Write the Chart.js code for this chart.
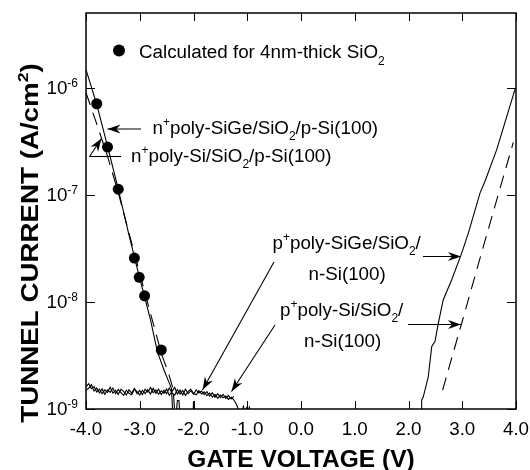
<!DOCTYPE html>
<html>
<head>
<meta charset="utf-8">
<script src="https://cdn.jsdelivr.net/npm/chart.js@4.4.1/dist/chart.umd.min.js"></script>
<style>
  html, body { margin: 0; padding: 0; background: #fff; }
  canvas { display: block; }
</style>
</head>
<body>
<canvas id="tunnel" width="530" height="470"></canvas>
<script>
// axis ticks
const xTicks = [-4, -3, -2, -1, 0, 1, 2, 3, 4];
const yTicks = [1e-9, 1e-8, 1e-7, 1e-6];

// n+ poly-SiGe gate, negative bias (solid)
const nSiGeV = [-4.0, -3.8, -3.6, -3.4, -3.2, -3.0, -2.9, -2.8, -2.67, -2.54, -2.47, -2.41, -2.38, -2.33, -2.30, -2.27, -2.25, -2.01, -2.00, -1.99];
const nSiGeJ = [1.48e-6, 7.0e-7, 2.85e-7, 1.13e-7, 4.2e-8, 1.65e-8, 1.07e-8, 6.8e-9, 3.4e-9, 2.25e-9, 1.85e-9, 1.56e-9, 8e-10, 8e-10, 1.2e-9, 1.2e-9, 8e-10, 8e-10, 1.18e-9, 8e-10];

// n+ poly-Si gate, negative bias (dashed)
const nSiV = [-4.0, -3.8, -3.6, -3.4, -3.2, -3.0, -2.8, -2.59, -2.47, -2.38, -2.34];
const nSiJ = [9e-7, 4.6e-7, 2.3e-7, 1.05e-7, 4.4e-8, 1.85e-8, 7.8e-9, 3.2e-9, 2.2e-9, 1.55e-9, 8e-10];

// calculated points, 4nm SiO2
const calcV = [-3.80, -3.60, -3.40, -3.10, -3.01, -2.91, -2.60];
const calcJ = [7.1e-7, 2.8e-7, 1.13e-7, 2.57e-8, 1.7e-8, 1.14e-8, 3.56e-9];

// p+ gates, leakage floor at negative bias (in 1e-9 A/cm2)
const floorV = [-4.00, -3.95, -3.90, -3.85, -3.80, -3.75, -3.70, -3.65, -3.60, -3.55, -3.50, -3.45, -3.40, -3.35, -3.30, -3.25, -3.20, -3.15, -3.10, -3.05,
                -3.00, -2.95, -2.90, -2.85, -2.80, -2.75, -2.70, -2.65, -2.60, -2.55, -2.50, -2.45, -2.40, -2.35, -2.30, -2.25, -2.20, -2.15, -2.10, -2.05,
                -2.00, -1.95, -1.90, -1.85, -1.80, -1.75, -1.70, -1.65, -1.60, -1.55, -1.50, -1.45, -1.40, -1.35, -1.30, -1.25];
const floorA = [1.62, 1.72, 1.55, 1.62, 1.44, 1.53, 1.39, 1.51, 1.43, 1.60, 1.41, 1.49, 1.37, 1.53, 1.46, 1.35, 1.51, 1.41, 1.56, 1.39,
                1.49, 1.36, 1.53, 1.44, 1.59, 1.42, 1.51, 1.37, 1.48, 1.40, 1.54, 1.34, 1.46, 1.59, 1.38, 1.50, 1.35, 1.53, 1.39, 1.48,
                1.37, 1.51, 1.41, 1.47, 1.36, 1.45, 1.32, 1.42, 1.29, 1.39, 1.28, 1.37, 1.26, 1.34, 1.24, 1.31];
const floorB = [1.50, 1.56, 1.69, 1.47, 1.57, 1.41, 1.54, 1.37, 1.51, 1.43, 1.57, 1.39, 1.52, 1.42, 1.34, 1.50, 1.40, 1.36, 1.53, 1.45,
                1.35, 1.49, 1.39, 1.51, 1.38, 1.56, 1.40, 1.53, 1.36, 1.50, 1.39, 1.57, 1.41, 1.35, 1.52, 1.38, 1.49, 1.34, 1.46, 1.53,
                1.40, 1.36, 1.48, 1.38, 1.45, 1.33, 1.41, 1.29, 1.37, 1.26, 1.35, 1.27, 1.32, 1.23, 1.29, 1.22];
const tailV = [-1.25, -1.20, -1.15, -1.10, -1.07, -1.04, -1.01, -0.98, -0.96, -0.94];
const tailB = [1.22, 1.10, 0.95, 0.80, 1.08, 0.70, 1.05, 0.75, 1.06, 0.60];

// p+ poly-SiGe gate, positive bias (solid)
const pSiGeV = [2.233, 2.245, 2.275, 2.368, 2.432, 2.493, 2.554, 2.647, 2.804, 2.99, 3.113, 3.33, 3.423, 3.641, 3.99];
const pSiGeJ = [8e-10, 1.21e-9, 1.30e-9, 2.0e-9, 3.83e-9, 4.27e-9, 6.3e-9, 1.05e-8, 1.61e-8, 2.86e-8, 4.4e-8, 1.04e-7, 1.34e-7, 2.65e-7, 1.0e-6];

// p+ poly-Si gate, positive bias (dashed)
const pSiV = [2.635, 2.8, 3.0, 3.2, 3.4, 3.6, 3.8, 3.95];
const pSiJ = [1.5e-9, 2.95e-9, 6.6e-9, 1.5e-8, 3.4e-8, 7.6e-8, 1.7e-7, 3.1e-7];

const FONT = '"Liberation Sans", Arial, Helvetica, sans-serif';
const MAIN = '18.8px ' + FONT;
const SMALL = '12px ' + FONT;

function pts(vs, js, k) {
  return vs.map((v, i) => ({ x: v, y: js[i] * (k || 1) }));
}

function line(data, dashed) {
  return {
    data: data, borderColor: '#000', borderWidth: 1.1, pointRadius: 0,
    borderDash: dashed ? [13, 8] : [], fill: false, clip: 0
  };
}

// text with super/subscript pieces
function richWidth(ctx, parts, big, small) {
  let w = 0;
  parts.forEach(p => { ctx.font = p[1] ? small : big; w += ctx.measureText(p[0]).width; });
  return w;
}
function drawRich(ctx, x, y, parts, big, small, up, down) {
  let cx = x;
  parts.forEach(p => {
    ctx.font = p[1] ? small : big;
    const dy = p[1] === 'sup' ? -up : p[1] === 'sub' ? down : 0;
    ctx.fillText(p[0], cx, y + dy);
    cx += ctx.measureText(p[0]).width;
  });
}

function arrow(ctx, path) {
  ctx.beginPath();
  ctx.moveTo(path[0][0], path[0][1]);
  for (let i = 1; i < path.length; i++) ctx.lineTo(path[i][0], path[i][1]);
  ctx.stroke();
  const a = path[path.length - 2], b = path[path.length - 1];
  const ang = Math.atan2(b[1] - a[1], b[0] - a[0]);
  ctx.save();
  ctx.translate(b[0], b[1]);
  ctx.rotate(ang);
  ctx.beginPath();
  ctx.moveTo(0, 0); ctx.lineTo(-13, -4.5); ctx.lineTo(-9, 0); ctx.lineTo(-13, 4.5);
  ctx.closePath(); ctx.fill();
  ctx.restore();
}

const decor = {
  id: 'decor',
  afterDatasetsDraw(chart) {
    const ctx = chart.ctx, a = chart.chartArea;
    const xs = chart.scales.x, ys = chart.scales.y;
    ctx.save();
    ctx.strokeStyle = '#000'; ctx.fillStyle = '#000';

    // frame
    ctx.lineWidth = 1.5;
    ctx.strokeRect(a.left, a.top, a.right - a.left, a.bottom - a.top);

    // tick marks pointing inward
    ctx.lineWidth = 1;
    ctx.beginPath();
    xTicks.forEach(v => {
      const px = Math.round(xs.getPixelForValue(v)) + 0.5;
      ctx.moveTo(px, a.bottom); ctx.lineTo(px, a.bottom - 8);
      ctx.moveTo(px, a.top); ctx.lineTo(px, a.top + 8);
    });
    yTicks.forEach(v => {
      const py = Math.round(ys.getPixelForValue(v)) + 0.5;
      ctx.moveTo(a.left, py); ctx.lineTo(a.left + 9, py);
      ctx.moveTo(a.right, py); ctx.lineTo(a.right - 9, py);
    });
    ctx.stroke();

    // tick labels
    ctx.textBaseline = 'alphabetic';
    ctx.textAlign = 'center';
    ctx.font = MAIN;
    xTicks.forEach(v => {
      ctx.fillText(v.toFixed(1), xs.getPixelForValue(v), a.bottom + 26);
    });
    ctx.textAlign = 'left';
    yTicks.forEach(v => {
      const py = ys.getPixelForValue(v);
      const parts = [['10'], [String(Math.round(Math.log10(v))), 'sup']];
      const w = richWidth(ctx, parts, MAIN, SMALL);
      drawRich(ctx, a.left - 8 - w, py + 6, parts, MAIN, SMALL, 7, 0);
    });

    // axis titles
    const TB = 'bold 23.5px ' + FONT, TS = 'bold 15px ' + FONT;
    ctx.font = 'bold 24.5px ' + FONT;
    ctx.textAlign = 'center';
    ctx.fillText('GATE VOLTAGE (V)', (a.left + a.right) / 2, 467);
    ctx.textAlign = 'left';
    const yt = [['TUNNEL CURRENT (A/cm'], ['2', 'sup'], [')']];
    const ytw = richWidth(ctx, yt, TB, TS);
    ctx.save();
    ctx.translate(37.5, 243);
    ctx.rotate(-Math.PI / 2);
    ctx.scale(1.18, 1);
    drawRich(ctx, -ytw / 2, 0, yt, TB, TS, 10, 0);
    ctx.restore();

    // legend
    ctx.beginPath();
    ctx.arc(119, 50.5, 6, 0, Math.PI * 2);
    ctx.fill();
    drawRich(ctx, 139, 57.5, [['Calculated for 4nm-thick SiO'], ['2', 'sub']], MAIN, SMALL, 8, 7);

    // curve labels
    drawRich(ctx, 152.5, 133.5, [['n'], ['+', 'sup'], ['poly-SiGe/SiO'], ['2', 'sub'], ['/p-Si(100)']], MAIN, SMALL, 8, 6.5);
    drawRich(ctx, 131, 161.5, [['n'], ['+', 'sup'], ['poly-Si/SiO'], ['2', 'sub'], ['/p-Si(100)']], MAIN, SMALL, 8, 6.5);
    drawRich(ctx, 272.5, 248.5, [['p'], ['+', 'sup'], ['poly-SiGe/SiO'], ['2', 'sub'], ['/']], MAIN, SMALL, 8, 6.5);
    drawRich(ctx, 308.5, 279.5, [['n-Si(100)']], MAIN, SMALL, 8, 6.5);
    drawRich(ctx, 280, 315.5, [['p'], ['+', 'sup'], ['poly-Si/SiO'], ['2', 'sub'], ['/']], MAIN, SMALL, 8, 6.5);
    drawRich(ctx, 304, 346.5, [['n-Si(100)']], MAIN, SMALL, 8, 6.5);

    // arrows
    ctx.lineWidth = 1.1;
    arrow(ctx, [[141, 129], [107.5, 129]]);
    ctx.beginPath(); ctx.moveTo(121, 156.5); ctx.lineTo(89.5, 156.5); ctx.stroke();
    arrow(ctx, [[89.5, 156.5], [101.5, 138.5]]);
    arrow(ctx, [[423, 256.5], [461, 256.5]]);
    arrow(ctx, [[408, 324.5], [461, 324.5]]);
    arrow(ctx, [[274, 262], [202.5, 390]]);
    arrow(ctx, [[275, 325], [231.5, 391.5]]);

    ctx.restore();
  }
};

new Chart(document.getElementById('tunnel').getContext('2d'), {
  type: 'line',
  data: {
    datasets: [
      line(pts(nSiGeV, nSiGeJ), false),
      line(pts(nSiV, nSiJ), true),
      line(pts(floorV, floorA, 1e-9), false),
      line(pts(floorV.concat(tailV.slice(1)), floorB.concat(tailB.slice(1)), 1e-9), false),
      line(pts(pSiGeV, pSiGeJ), false),
      line(pts(pSiV, pSiJ), true),
      {
        type: 'scatter', data: pts(calcV, calcJ), showLine: false,
        pointRadius: 5.5, pointBackgroundColor: '#000', pointBorderColor: '#000', pointBorderWidth: 0, clip: 0
      }
    ]
  },
  options: {
    responsive: false,
    animation: false,
    layout: { padding: { left: 86, right: 14, top: 13, bottom: 61 } },
    plugins: { legend: { display: false }, tooltip: { enabled: false } },
    elements: { line: { tension: 0 } },
    scales: {
      x: { type: 'linear', min: -4, max: 4, display: false },
      y: { type: 'logarithmic', min: 1e-9, max: 5e-6, display: false }
    }
  },
  plugins: [decor]
});
</script>
</body>
</html>
